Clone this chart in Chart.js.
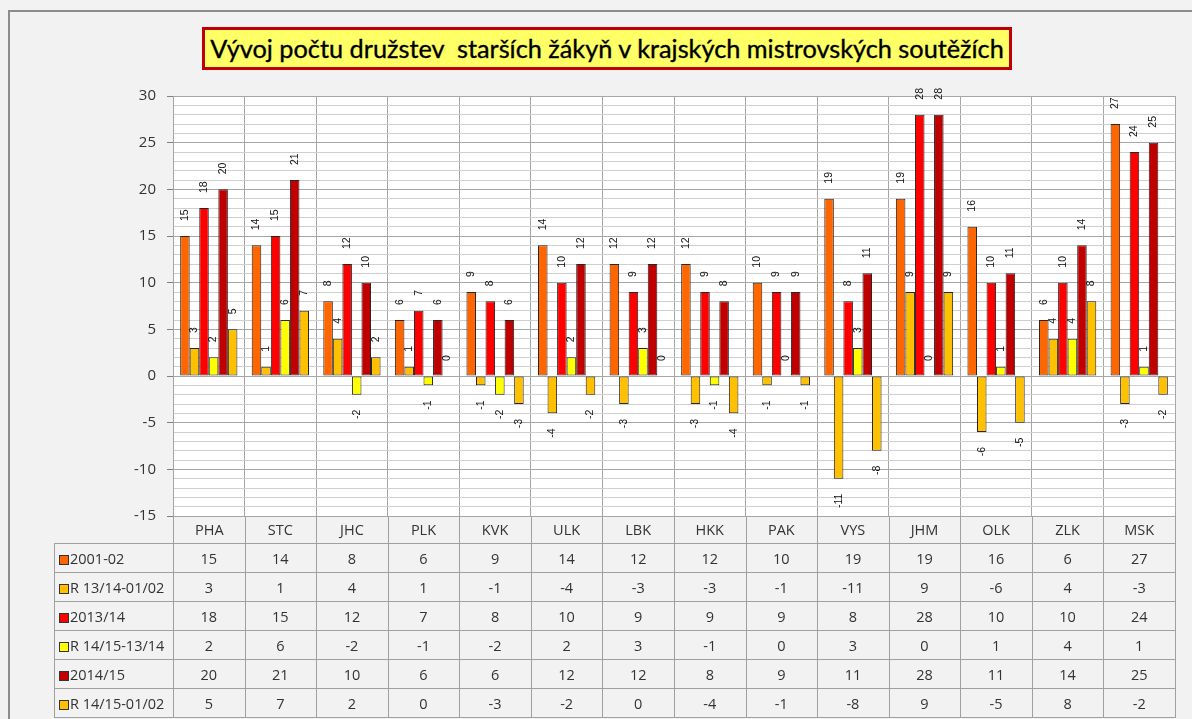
<!DOCTYPE html>
<html>
<head>
<meta charset="utf-8">
<script src="https://cdn.jsdelivr.net/npm/chart.js@4"></script>
<style>
  html, body { margin: 0; padding: 0; background: #f2f2f2; }
  #wrap { position: relative; width: 1192px; height: 719px; overflow: hidden; background: #f2f2f2; }
  #frame { position: absolute; left: 8px; top: 10px; width: 1300px; height: 800px; border: 2px solid #8c8c8c; box-sizing: border-box; }
  #c { position: absolute; left: 0; top: 0; }
  #title { position: absolute; left: 202px; top: 27px; width: 810px; height: 43px; box-sizing: border-box;
           border: 3px solid #c00000; background: #ffff66; font-family: Lato, 'Open Sans', sans-serif;
           font-size: 25.3px; color: #000; text-align: center; line-height: 36px; white-space: pre;
           -webkit-text-stroke: 0.35px #000; }
  .cell { position: absolute; box-sizing: border-box; font-family: 'Open Sans', sans-serif; font-size: 14.5px;
          color: #333; text-align: center; white-space: nowrap; }
  .lab { text-align: left; padding-left: 4px; }
  .key { display: inline-block; width: 8px; height: 8px; border: 1px solid #333; margin-right: 1px; vertical-align: -1px; }
</style>
</head>
<body>
<div id="wrap">
  <div id="frame"></div>
  <canvas id="c" width="1192" height="719"></canvas>
  <div id="title">Vývoj počtu družstev  starších žákyň v krajských mistrovských soutěžích</div>
  <div id="table"></div>
</div>
<script>
// ---- data ----
const categories = ['PHA','STC','JHC','PLK','KVK','ULK','LBK','HKK','PAK','VYS','JHM','OLK','ZLK','MSK'];
const seriesNames = ['2001-02','R 13/14-01/02','2013/14','R 14/15-13/14','2014/15','R 14/15-01/02'];
const s2001_02   = [15,14,8,6,9,14,12,12,10,19,19,16,6,27];
const r1314_0102 = [3,1,4,1,-1,-4,-3,-3,-1,-11,9,-6,4,-3];
const s2013_14   = [18,15,12,7,8,10,9,9,9,8,28,10,10,24];
const r1415_1314 = [2,6,-2,-1,-2,2,3,-1,0,3,0,1,4,1];
const s2014_15   = [20,21,10,6,6,12,12,8,9,11,28,11,14,25];
const r1415_0102 = [5,7,2,0,-3,-2,0,-4,-1,-8,9,-5,8,-2];
const yMin = -15, yMax = 30, yMajorStep = 5, yMinorStep = 1;

const seriesValues = [s2001_02, r1314_0102, s2013_14, r1415_1314, s2014_15, r1415_0102];
const seriesColors = ['#ff6600','#ffc000','#ff0000','#ffff00','#c00000','#ffc000'];

const plotBg = {
  id: 'plotBg',
  beforeDraw(chart) {
    const {ctx, chartArea: a} = chart;
    ctx.save();
    ctx.fillStyle = '#ffffff';
    ctx.fillRect(a.left, a.top, a.right - a.left, a.bottom - a.top);
    ctx.restore();
  }
};

const barLabels = {
  id: 'barLabels',
  afterDatasetsDraw(chart) {
    const ctx = chart.ctx;
    ctx.save();
    ctx.font = '10.5px "Liberation Sans", Arial, sans-serif';
    ctx.fillStyle = '#111';
    ctx.textBaseline = 'middle';
    chart.data.datasets.forEach((ds, di) => {
      const meta = chart.getDatasetMeta(di);
      meta.data.forEach((el, i) => {
        const v = ds.data[i];
        ctx.save();
        if (v >= 0) {
          ctx.translate(el.x, el.y - 15);
          ctx.rotate(-Math.PI / 2);
          ctx.textAlign = 'left';
        } else {
          ctx.translate(el.x, el.y + 15);
          ctx.rotate(-Math.PI / 2);
          ctx.textAlign = 'right';
        }
        ctx.fillText(String(v), 0, 0);
        ctx.restore();
      });
    });
    ctx.restore();
  }
};

Chart.defaults.font.family = "'Open Sans', sans-serif";

const chart = new Chart(document.getElementById('c'), {
  type: 'bar',
  data: {
    labels: categories,
    datasets: seriesValues.map((vals, k) => ({
      label: seriesNames[k],
      data: vals,
      backgroundColor: seriesColors[k],
      borderColor: '#262626',
      borderWidth: 1,
      borderSkipped: false,
      categoryPercentage: 0.8,
      barPercentage: 1.0
    }))
  },
  options: {
    responsive: false,
    animation: false,
    layout: { padding: { left: 0, top: 96, right: 17, bottom: 203 } },
    plugins: { legend: { display: false }, title: { display: false }, tooltip: { enabled: false } },
    scales: {
      x: {
        grid: { color: '#a6a6a6', drawTicks: false, offset: true },
        border: { color: '#a6a6a6' },
        ticks: { display: false },
        afterFit(s) { s.height = 0; }
      },
      y: {
        min: yMin, max: yMax,
        afterFit(s) { s.width = 173; },
        border: { color: '#a6a6a6' },
        grid: {
          color: c => (c.tick && c.tick.value % yMajorStep === 0) ? '#a6a6a6' : '#cfcfcf',
          tickColor: c => (c.tick && c.tick.value % yMajorStep === 0) ? '#808080' : 'rgba(0,0,0,0)',
          tickLength: 6
        },
        ticks: {
          stepSize: yMinorStep,
          autoSkip: false,
          padding: 11,
          color: '#333',
          font: { size: 15 },
          callback: v => (v % yMajorStep === 0) ? String(v) : ''
        }
      }
    }
  },
  plugins: [plotBg, barLabels]
});

// ---- data table under the chart ----
(function buildTable() {
  const a = chart.chartArea;
  const n = categories.length;
  const colW = (a.right - a.left) / n;
  const labLeft = 54;
  const headTop = a.bottom, headH = 28, rowH = 29;
  const t = document.getElementById('table');
  const border = '1px solid #a0a0a0';
  function cell(x, y, w, h, html, cls, sides) {
    const d = document.createElement('div');
    d.className = 'cell' + (cls ? ' ' + cls : '');
    d.style.left = x + 'px'; d.style.top = y + 'px';
    d.style.width = w + 'px'; d.style.height = h + 'px';
    d.style.lineHeight = h + 'px';
    if (sides.r) d.style.borderRight = border;
    if (sides.b) d.style.borderBottom = border;
    if (sides.l) d.style.borderLeft = border;
    d.innerHTML = html;
    t.appendChild(d);
  }
  categories.forEach((c, i) => {
    cell(a.left + i * colW, headTop, colW + 1, headH, c, '', { r: true, b: true, l: i === 0 });
  });
  seriesNames.forEach((name, k) => {
    const y = headTop + headH + k * rowH;
    cell(labLeft, y, a.left - labLeft + 1, rowH,
      '<span class="key" style="background:' + seriesColors[k] + '"></span>' + name, 'lab',
      { l: true, r: true, b: true });
    seriesValues[k].forEach((v, i) => {
      cell(a.left + i * colW, y, colW + 1, rowH, String(v), '', { r: true, b: true });
    });
  });
  const line = document.createElement('div');
  line.style.cssText = 'position:absolute;left:' + labLeft + 'px;top:' + (headTop + headH - 1) + 'px;width:' + (a.left - labLeft) + 'px;height:1px;background:#a0a0a0;';
  t.appendChild(line);
})();
</script>
</body>
</html>
